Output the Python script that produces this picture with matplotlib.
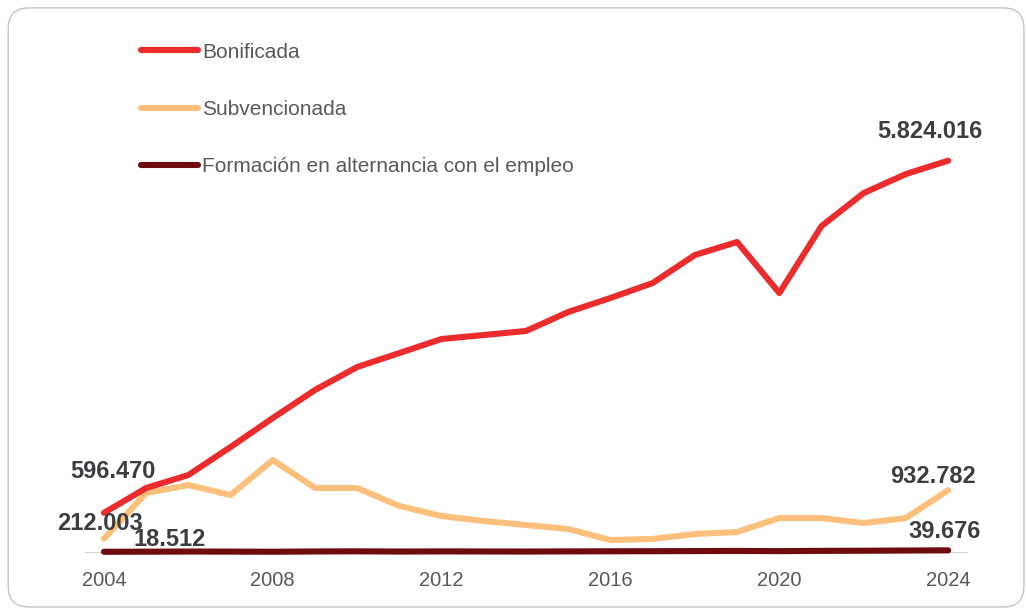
import matplotlib.pyplot as plt
from matplotlib.patches import FancyBboxPatch

# Participantes en formación para el empleo, 2004-2024
years = list(range(2004, 2025))
bonificada = [596470, 965000, 1158000, 1574000, 2004000, 2420000, 2761000,
              2969000, 3177000, 3236000, 3296000, 3578000, 3786000, 4008000,
              4424000, 4617000, 3860000, 4854000, 5344000, 5626000, 5824016]
subvencionada = [212003, 891000, 1009000, 861000, 1381000, 965000, 965000,
                 698000, 549000, 475000, 416000, 356000, 193000, 208000,
                 282000, 312000, 520000, 520000, 445000, 520000, 932782]
alternancia = [18512, 20000, 22000, 21000, 19000, 23000, 25000, 22000,
               24000, 23000, 22000, 24000, 26000, 27000, 29000, 31000,
               28000, 32000, 34000, 37000, 39676]
xticks = [2004, 2008, 2012, 2016, 2020, 2024]

plt.rcParams['font.family'] = ['Liberation Sans', 'DejaVu Sans']

RED = '#ec2c2c'
ORANGE = '#fdc07c'
MAROON = '#6e0b0e'
TXT = '#3b3d40'

fig = plt.figure(figsize=(10.26, 6.10), dpi=100)
ax = fig.add_axes([0.0828, 0.0934, 0.8607, 0.6771])

# rounded frame around the card
frame = FancyBboxPatch((0.008, 0.005), 0.99, 0.982,
                       boxstyle='round,pad=0,rounding_size=0.02',
                       transform=fig.transFigure, facecolor='none',
                       edgecolor='#c4c4c4', linewidth=1.0, mutation_aspect=1.7)
fig.add_artist(frame)

ax.axhline(0, color='#cccccc', linewidth=1.2, zorder=1)

kw = dict(linewidth=4.4, solid_capstyle='round', solid_joinstyle='round', clip_on=False)
ax.plot(years, alternancia, color=MAROON, label='Formación en alternancia con el empleo', zorder=4, **kw)
ax.plot(years, subvencionada, color=ORANGE, label='Subvencionada', zorder=3, **kw)
ax.plot(years, bonificada, color=RED, label='Bonificada', zorder=5, **kw)

ax.set_xlim(2003.55, 2024.47)
ax.set_ylim(0, 6131000)
ax.set_yticks([])
ax.set_xticks(xticks)
ax.set_xticklabels([str(t) for t in xticks])
ax.tick_params(axis='x', length=0, pad=13, labelsize=14.5, labelcolor='#58595b')
for s in ax.spines.values():
    s.set_visible(False)

# value labels at both ends
lab = dict(textcoords='offset pixels', ha='center', va='center',
           fontsize=17, fontweight='bold', color=TXT, zorder=6)
ax.annotate('5.824.016', (years[-1], bonificada[-1]), xytext=(-18, 29), **lab)
ax.annotate('596.470', (years[0], bonificada[0]), xytext=(9, 41), **lab)
ax.annotate('212.003', (years[0], subvencionada[0]), xytext=(-4, 15), **lab)
ax.annotate('18.512', (years[0], alternancia[0]), xytext=(66, 12), **lab)
ax.annotate('932.782', (years[-1], subvencionada[-1]), xytext=(-15, 14), **lab)
ax.annotate('39.676', (years[-1], alternancia[-1]), xytext=(-4, 19), **lab)

handles, labels = ax.get_legend_handles_labels()
order = [2, 1, 0]
leg = fig.legend([handles[i] for i in order], [labels[i] for i in order],
                 loc='upper left', bbox_to_anchor=(0.1377, 0.930), frameon=False,
                 fontsize=15, handlelength=2.7, handletextpad=0.23,
                 labelspacing=1.83, borderpad=0, borderaxespad=0)
for t in leg.get_texts():
    t.set_color('#58595b')

fig.savefig('out.png', dpi=100)
